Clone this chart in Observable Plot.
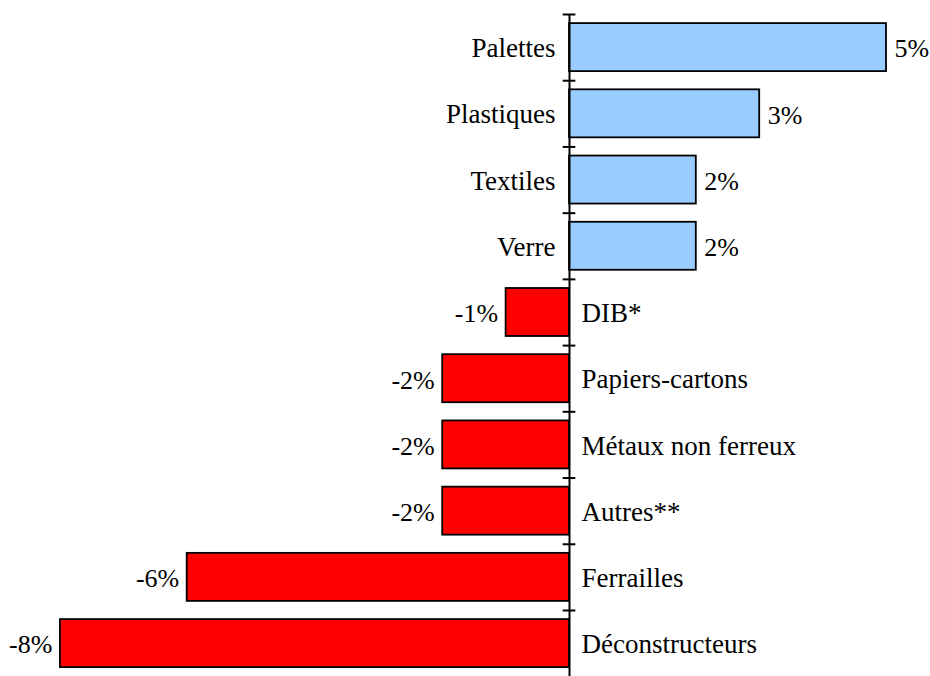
<!DOCTYPE html>
<html>
<head>
<meta charset="utf-8">
<script src="https://cdn.jsdelivr.net/npm/d3@7"></script>
<script src="https://cdn.jsdelivr.net/npm/@observablehq/plot@0.6"></script>
<style>
  html, body { margin: 0; padding: 0; background: #fff; }
  #chart svg { display: block; }
</style>
</head>
<body>
<div id="chart"></div>
<script>
const categories = ["Palettes", "Plastiques", "Textiles", "Verre", "DIB*", "Papiers-cartons", "Métaux non ferreux", "Autres**", "Ferrailles", "Déconstructeurs"];
const values = [5.0, 3.0, 2.0, 2.0, -1.0, -2.0, -2.0, -2.0, -6.03, -8.03];
const valueLabels = ["5%", "3%", "2%", "2%", "-1%", "-2%", "-2%", "-2%", "-6%", "-8%"];

const data = categories.map((c, i) => ({cat: c, i, v: values[i], label: valueLabels[i]}));
const tickPositions = d3.range(0, categories.length);

const font = "'Liberation Serif', 'Times New Roman', serif";
const fsCat = 27;
const fsVal = 26;

const chart = Plot.plot({
  width: 930,
  height: 676,
  margin: 0,
  style: {fontFamily: font, fontSize: fsCat + "px", background: "#fff", color: "#000"},
  x: {domain: [-8.975, 5.694], range: [0, 930], axis: null},
  y: {domain: [0, 10], range: [14, 676.2], axis: null},
  marks: [
    Plot.rectX(data, {
      x1: 0, x2: "v",
      y1: d => d.i + 0.1375, y2: d => d.i + 0.8625,
      fill: d => d.v >= 0 ? "#99CCFF" : "#FF0000",
      stroke: "#000", strokeWidth: 1.8
    }),
    Plot.ruleX([0], {y1: 0, y2: 10, stroke: "#000", strokeWidth: 2}),
    Plot.ruleY(tickPositions, {y: d => d, x1: -0.1, x2: 0.1, stroke: "#000", strokeWidth: 2}),
    Plot.text(data.filter(d => d.v >= 0), {x: 0, y: d => d.i + 0.5, text: "cat", textAnchor: "end", dx: -14, dy: 1, fontSize: fsCat, fill: "#000"}),
    Plot.text(data.filter(d => d.v < 0), {x: 0, y: d => d.i + 0.5, text: "cat", textAnchor: "start", dx: 12, dy: 1, fontSize: fsCat, fill: "#000"}),
    Plot.text(data.filter(d => d.v >= 0), {x: "v", y: d => d.i + 0.5, text: "label", textAnchor: "start", dx: 8, dy: 1.5, fontSize: fsVal, fill: "#000"}),
    Plot.text(data.filter(d => d.v < 0), {x: "v", y: d => d.i + 0.5, text: "label", textAnchor: "end", dx: -8, dy: 1.5, fontSize: fsVal, fill: "#000"})
  ]
});
document.getElementById("chart").appendChild(chart);
</script>
</body>
</html>
